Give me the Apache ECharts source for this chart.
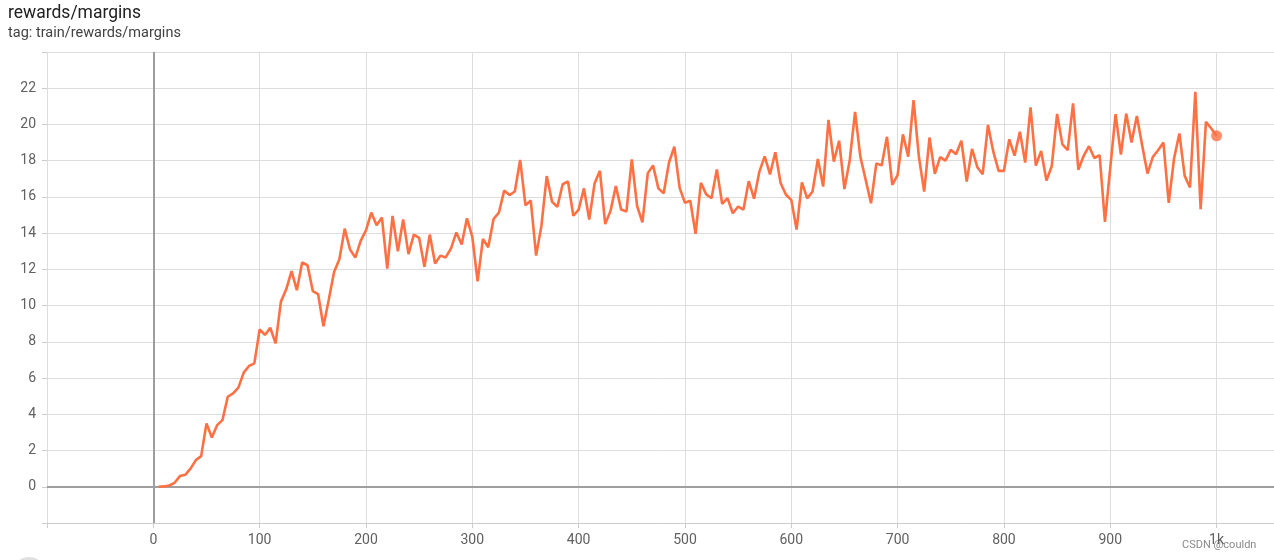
<!DOCTYPE html>
<html>
<head>
<meta charset="utf-8">
<title>rewards/margins</title>
<script src="https://cdn.jsdelivr.net/npm/echarts@6/dist/echarts.min.js"></script>
<style>
  html, body { margin: 0; padding: 0; background: #fff; }
  #chart { width: 1274px; height: 560px; }
</style>
</head>
<body>
<div id="chart"></div>
<script>
// training steps (x)
const steps = [
  5, 10, 15, 20, 25, 30, 35, 40, 45, 50, 55, 60, 65, 70, 75, 80, 85, 90, 95, 100,
  105, 110, 115, 120, 125, 130, 135, 140, 145, 150, 155, 160, 165, 170, 175, 180, 185, 190, 195, 200,
  205, 210, 215, 220, 225, 230, 235, 240, 245, 250, 255, 260, 265, 270, 275, 280, 285, 290, 295, 300,
  305, 310, 315, 320, 325, 330, 335, 340, 345, 350, 355, 360, 365, 370, 375, 380, 385, 390, 395, 400,
  405, 410, 415, 420, 425, 430, 435, 440, 445, 450, 455, 460, 465, 470, 475, 480, 485, 490, 495, 500,
  505, 510, 515, 520, 525, 530, 535, 540, 545, 550, 555, 560, 565, 570, 575, 580, 585, 590, 595, 600,
  605, 610, 615, 620, 625, 630, 635, 640, 645, 650, 655, 660, 665, 670, 675, 680, 685, 690, 695, 700,
  705, 710, 715, 720, 725, 730, 735, 740, 745, 750, 755, 760, 765, 770, 775, 780, 785, 790, 795, 800,
  805, 810, 815, 820, 825, 830, 835, 840, 845, 850, 855, 860, 865, 870, 875, 880, 885, 890, 895, 900,
  905, 910, 915, 920, 925, 930, 935, 940, 945, 950, 955, 960, 965, 970, 975, 980, 985, 990, 995, 1000
]

// train/rewards/margins (y)
const margins = [
  0.0, 0.02, 0.07, 0.22, 0.59, 0.66, 1.0, 1.47, 1.69, 3.5, 2.72, 3.4, 3.68, 4.97, 5.15, 5.47, 6.3, 6.67, 6.81, 8.69,
  8.38, 8.78, 7.92, 10.22, 10.9, 11.9, 10.85, 12.38, 12.23, 10.8, 10.63, 8.86, 10.33, 11.86, 12.56, 14.25, 13.1, 12.65, 13.57, 14.16,
  15.14, 14.44, 14.86, 12.04, 14.95, 13.0, 14.75, 12.84, 13.92, 13.74, 12.15, 13.92, 12.33, 12.76, 12.66, 13.16, 14.04, 13.38, 14.82, 13.8,
  11.34, 13.68, 13.22, 14.78, 15.13, 16.35, 16.1, 16.3, 18.04, 15.54, 15.8, 12.76, 14.4, 17.15, 15.73, 15.45, 16.7, 16.85, 14.96, 15.3,
  16.47, 14.75, 16.74, 17.44, 14.5, 15.23, 16.6, 15.3, 15.2, 18.07, 15.5, 14.6, 17.3, 17.74, 16.47, 16.2, 17.9, 18.77, 16.5, 15.68,
  15.79, 13.96, 16.78, 16.14, 15.93, 17.52, 15.62, 15.93, 15.1, 15.47, 15.3, 16.87, 15.9, 17.4, 18.24, 17.24, 18.47, 16.76, 16.12, 15.84,
  14.2, 16.8, 15.92, 16.3, 18.1, 16.57, 20.25, 17.95, 19.1, 16.43, 18.04, 20.7, 18.2, 16.94, 15.65, 17.85, 17.74, 19.32, 16.66, 17.2,
  19.45, 18.22, 21.34, 18.22, 16.29, 19.28, 17.27, 18.2, 18.0, 18.6, 18.36, 19.1, 16.85, 18.65, 17.64, 17.25, 19.97, 18.5, 17.44, 17.44,
  19.18, 18.28, 19.6, 17.9, 20.95, 17.73, 18.54, 16.9, 17.71, 20.58, 18.9, 18.58, 21.16, 17.5, 18.27, 18.8, 18.15, 18.3, 14.62, 17.6,
  20.57, 18.34, 20.6, 19.0, 20.47, 18.85, 17.29, 18.2, 18.58, 19.0, 15.67, 18.12, 19.5, 17.16, 16.52, 21.8, 15.32, 20.14, 19.78, 19.37
]

const labelColor = '#616161'
const gridColor = '#dddddd'
const lineColor = '#ff7043'

const chart = echarts.init(document.getElementById('chart'))

const points = steps.map((s, i) => [s, margins[i]])
const last = points[points.length - 1]

const option = {
  animation: false,
  textStyle: { fontFamily: 'Roboto, sans-serif' },
  title: {
    text: 'rewards/margins',
    subtext: 'tag: train/rewards/margins',
    left: 8,
    top: 5,
    itemGap: 3,
    padding: 0,
    textStyle: { fontSize: 17.5, fontWeight: 'normal', color: '#212121', fontFamily: 'Roboto' },
    subtextStyle: { fontSize: 14.5, color: '#424242', fontFamily: 'Roboto' }
  },
  grid: {
    left: 47,
    right: 0,
    top: 52,
    bottom: 37,
    containLabel: false,
    outerBoundsMode: 'none'
  },
  xAxis: {
    type: 'value',
    min: -100,
    max: 1054,
    interval: 100,
    axisLine: { show: true, onZero: false, lineStyle: { color: '#cccccc', width: 1 } },
    axisTick: { show: true, length: 5, lineStyle: { color: '#cccccc' } },
    axisLabel: {
      color: labelColor,
      fontSize: 14,
      margin: 10,
      formatter: (v) => {
        if (v < 0 || v % 100 !== 0) return ''
        return v === 1000 ? '1k' : String(v)
      }
    },
    splitLine: { show: true, lineStyle: { color: gridColor, width: 1 } }
  },
  yAxis: {
    type: 'value',
    min: -2,
    max: 24,
    interval: 2,
    axisLine: { show: false, onZero: false },
    axisTick: { show: true, length: 5, lineStyle: { color: '#cccccc' } },
    axisLabel: {
      color: labelColor,
      fontSize: 14,
      margin: 11,
      formatter: (v) => (v < 0 || v > 22 ? '' : String(v))
    },
    splitLine: { show: true, lineStyle: { color: gridColor, width: 1 } }
  },
  series: [
    {
      type: 'line',
      data: points,
      showSymbol: false,
      lineStyle: { color: lineColor, width: 2.6 },
      itemStyle: { color: lineColor },
      z: 3,
      markLine: {
        silent: true,
        symbol: 'none',
        label: { show: false },
        lineStyle: { color: '#9e9e9e', width: 2, type: 'solid' },
        data: [{ xAxis: 0 }, { yAxis: 0 }],
        z: 2
      }
    },
    {
      type: 'scatter',
      data: [last],
      symbolSize: 11,
      itemStyle: { color: lineColor },
      z: 4
    }
  ],
  graphic: [
    {
      type: 'circle',
      shape: { cx: 29, cy: 574, r: 17 },
      style: { fill: '#e0e0e0' }
    },
    {
      type: 'text',
      left: 1182,
      top: 540,
      style: {
        text: 'CSDN @couldn',
        fontSize: 11,
        fontFamily: 'Roboto, sans-serif',
        fill: '#8a8a8a'
      }
    }
  ]
}

chart.setOption(option)
</script>
</body>
</html>
